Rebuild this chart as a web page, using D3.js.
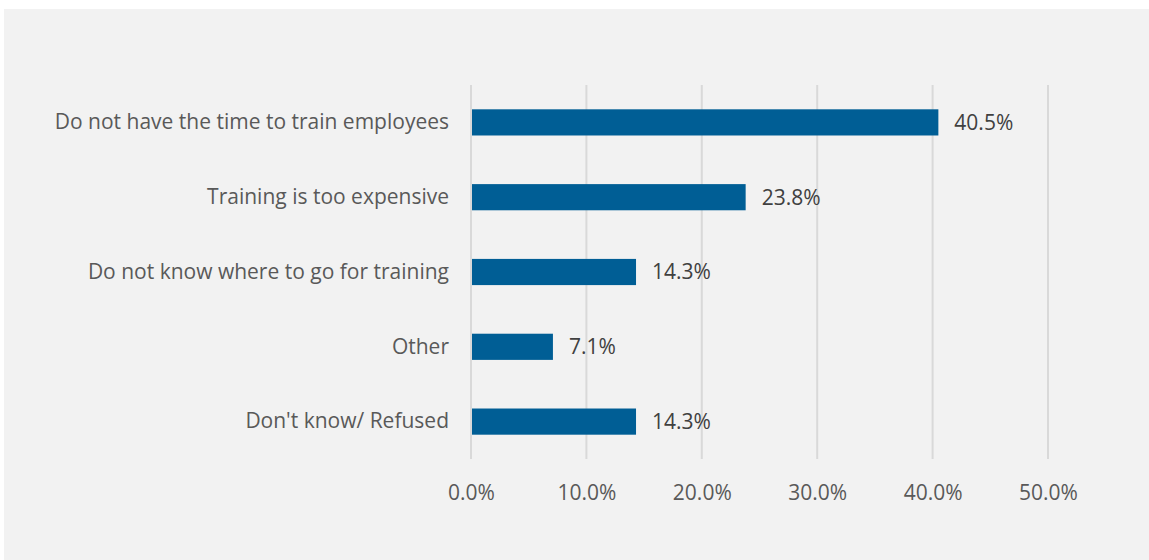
<!DOCTYPE html>
<html><head><meta charset="utf-8">
<script src="https://cdn.jsdelivr.net/npm/d3@7"></script>
<style>body{margin:0;background:#fff}svg{display:block}</style>
</head><body>
<script>
const categories = ["Do not have the time to train employees","Training is too expensive","Do not know where to go for training","Other","Don't know/ Refused"];
const values = [40.5, 23.8, 14.3, 7.1, 14.3];
const ticks = [0,10,20,30,40,50];

const W=1149,H=560;
const svg=d3.select("body").append("svg").attr("width",W).attr("height",H);
svg.append("rect").attr("x",4).attr("y",9).attr("width",W-4).attr("height",H-9).attr("fill","#f2f2f2");
const x=d3.scaleLinear().domain([0,50]).range([471,1048]);
const y=d3.scaleBand().domain(categories).range([85,459]).paddingInner(0.65).paddingOuter(0.325);
const font="'Open Sans', sans-serif";
const g=svg.append("g");
g.selectAll("line.grid").data(ticks).join("line").attr("class","grid")
 .attr("x1",d=>x(d)).attr("x2",d=>x(d)).attr("y1",85).attr("y2",459)
 .attr("stroke","#d9d9d9").attr("stroke-width",2);
g.selectAll("rect.bar").data(values).join("rect").attr("class","bar")
 .attr("x",x(0)+1).attr("y",(d,i)=>y(categories[i])).attr("width",d=>x(d)-x(0)-1).attr("height",y.bandwidth())
 .attr("fill","#005e95");
g.selectAll("text.val").data(values).join("text").attr("class","val")
 .attr("x",d=>x(d)+16).attr("y",(d,i)=>y(categories[i])+y.bandwidth()/2).attr("dy","0.35em")
 .attr("font-family",font).attr("font-size",21).attr("fill","#404040").text(d=>d.toFixed(1)+"%");
const ya=d3.axisLeft(y).tickSize(0).tickPadding(22);
const yg=svg.append("g").attr("transform","translate(471,0)").call(ya);
yg.select(".domain").remove();
yg.selectAll("text").attr("font-family",font).attr("font-size",21).attr("fill","#595959");
const xa=d3.axisBottom(x).tickValues(ticks).tickSize(0).tickPadding(15).tickFormat(d=>d.toFixed(1)+"%");
const xg=svg.append("g").attr("transform","translate(0,470)").call(xa);
xg.select(".domain").remove();
xg.selectAll("text").attr("font-family",font).attr("font-size",21).attr("fill","#595959");
</script>
</body></html>
